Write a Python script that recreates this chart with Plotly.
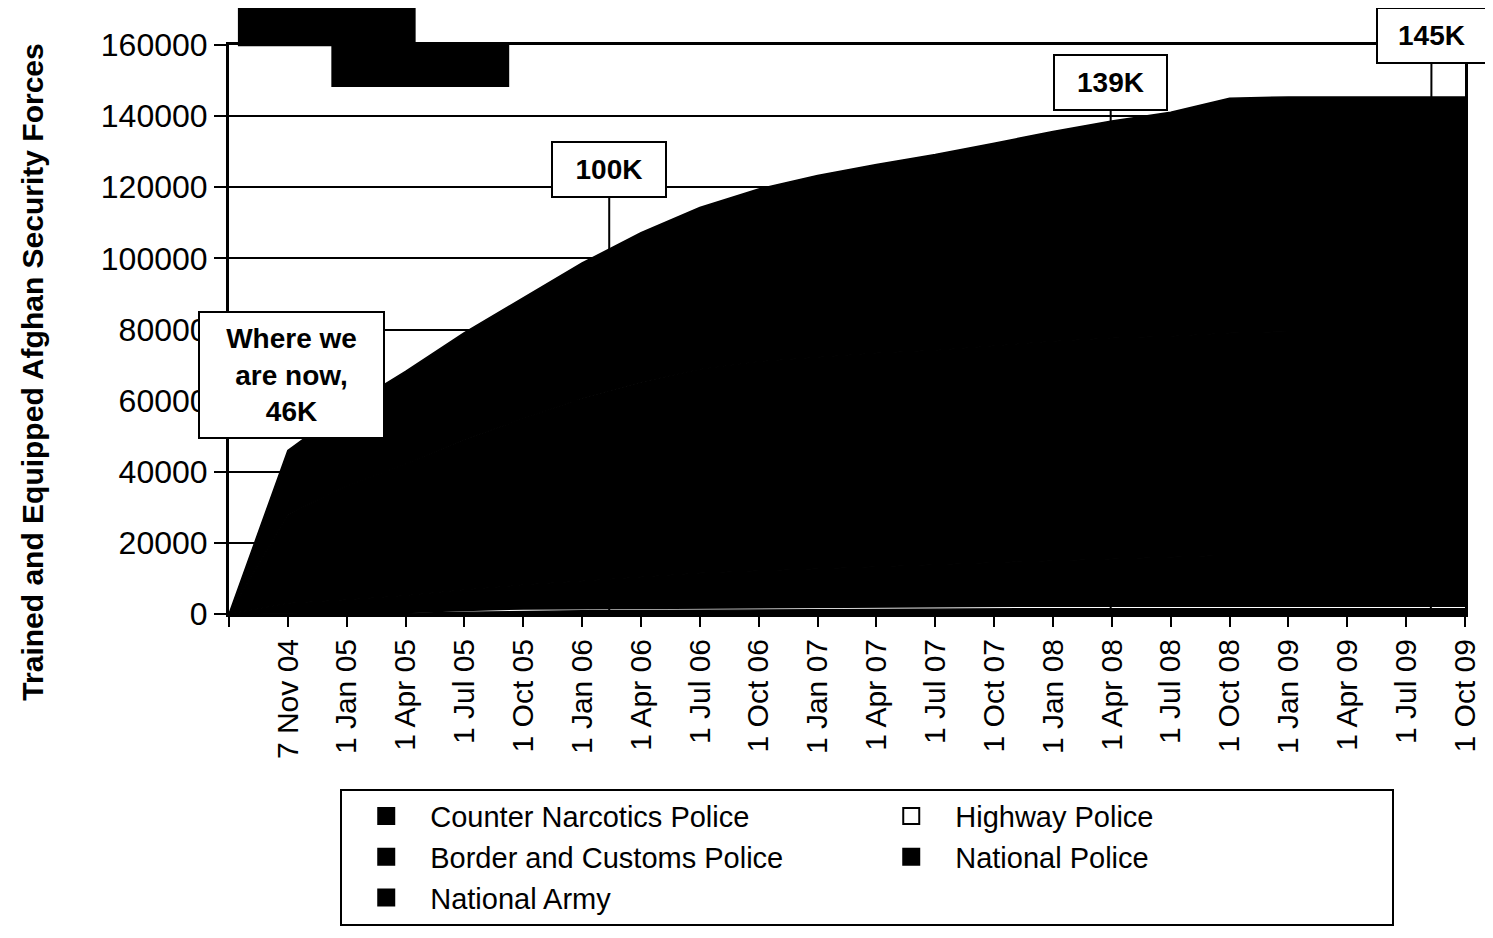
import plotly.graph_objects as go

# ---- data ----
date_labels = ["", "7 Nov 04", "1 Jan 05", "1 Apr 05", "1 Jul 05", "1 Oct 05",
               "1 Jan 06", "1 Apr 06", "1 Jul 06", "1 Oct 06", "1 Jan 07",
               "1 Apr 07", "1 Jul 07", "1 Oct 07", "1 Jan 08", "1 Apr 08",
               "1 Jul 08", "1 Oct 08", "1 Jan 09", "1 Apr 09", "1 Jul 09", "1 Oct 09"]

counter_narcotics = [0, 0, 0, 200, 500, 800, 900, 1000, 1100, 1200, 1300,
                     1400, 1400, 1500, 1500, 1500, 1500, 1500, 1500, 1500, 1500, 1500]
highway_police = [0, 0, 0, 0, 300, 400, 400, 400, 400, 450, 450,
                  500, 500, 500, 500, 500, 500, 500, 500, 500, 500, 500]
border_customs = [0, 3000, 4000, 5000, 6000, 7000, 8000, 9000, 10000, 10500, 11000,
                  11500, 12000, 12500, 13000, 13500, 14000, 14500, 14500, 14500, 14500, 14500]
national_police = [0, 25000, 32000, 37000, 42300, 46700, 51400, 54800, 57300, 58850, 59550,
                   60000, 60300, 60900, 61700, 62100, 62100, 62500, 62900, 62900, 62900, 62900]
national_army = [0, 18000, 22000, 26000, 30000, 34000, 38000, 42000, 45500, 48500, 51000,
                 53000, 55000, 57000, 59000, 61000, 63000, 66000, 66000, 66000, 66000, 66000]

series_names = ["Counter Narcotics Police", "Highway Police", "Border and Customs Police",
                "National Police", "National Army"]
series_values = [counter_narcotics, highway_police, border_customs, national_police, national_army]
series_fill = ["black", "white", "black", "black", "black"]

y_ticks = [0, 20000, 40000, 60000, 80000, 100000, 120000, 140000, 160000]

# callouts: (text, arrow x index, box x index, box y value, box w, box h, arrow?)
callouts = [
    ("Where we<br>are now,<br>46K", 1.055, 1.055, 67300, 183, 124, False),
    ("100K", 6.46, 6.46, 125000, 112, 53, True),
    ("139K", 14.98, 14.98, 149400, 111, 53, True),
    ("145K", 20.42, 20.43, 162550, 107, 53, True),
]

FONT = "Liberation Sans, Arial, sans-serif"
x_idx = list(range(len(date_labels)))

fig = go.Figure()
for name, vals, fc in zip(series_names, series_values, series_fill):
    lw = 0 if fc == "white" else 1.5
    fig.add_trace(go.Scatter(
        x=x_idx, y=vals, name=name, stackgroup="one", mode="lines",
        line=dict(width=lw, color="black"), fillcolor=fc, showlegend=False,
        hoverinfo="skip"))

# legend-only marker entries
for name, fc in zip(series_names, series_fill):
    fig.add_trace(go.Scatter(
        x=[None], y=[None], name=name, mode="markers",
        marker=dict(symbol="square", size=17, color=fc,
                    line=dict(color="black", width=2)),
        showlegend=True))

annotations = []
for text, xa, xb, yb, w, h, arrow in callouts:
    a = dict(text="<b>" + text + "</b>", font=dict(family=FONT, size=28, color="black"),
             bgcolor="white", bordercolor="black", borderwidth=2, borderpad=0,
             width=w, height=h, align="center", valign="middle")
    if arrow:
        a.update(x=xa, y=0, xref="x", yref="y", ax=xb, ay=yb, axref="x", ayref="y",
                 showarrow=True, arrowhead=0, arrowwidth=2, arrowcolor="black",
                 standoff=0, startstandoff=0)
    else:
        a.update(x=xb, y=yb, xref="x", yref="y", showarrow=False,
                 xanchor="center", yanchor="middle")
    annotations.append(a)

annotations.append(dict(
    text="<b>Trained and Equipped Afghan Security Forces</b>", textangle=-90,
    xref="paper", yref="paper", x=-0.159, y=0.425, showarrow=False,
    xanchor="center", yanchor="middle",
    font=dict(family=FONT, size=30, color="black")))

shapes = [
    dict(type="rect", xref="paper", yref="paper", x0=0.0072, x1=0.151, y0=0.998, y1=1.065,
         fillcolor="black", line=dict(width=0), layer="above"),
    dict(type="rect", xref="paper", yref="paper", x0=0.0828, x1=0.2267, y0=0.926, y1=1.0,
         fillcolor="black", line=dict(width=0), layer="above"),
]

fig.update_layout(
    width=1485, height=930,
    margin=dict(l=221, r=13, t=37, b=323),
    paper_bgcolor="white", plot_bgcolor="white",
    font=dict(family=FONT, color="black"),
    annotations=annotations, shapes=shapes,
    legend=dict(orientation="h", x=0.09, y=-0.307, xanchor="left", yanchor="top",
                traceorder="normal",
                bordercolor="black", borderwidth=2, bgcolor="white",
                entrywidth=432, entrywidthmode="pixels",
                font=dict(family=FONT, size=29, color="black"),
                itemwidth=78),
    xaxis=dict(range=[0, 21], tickmode="array", tickvals=x_idx, ticktext=date_labels,
               tickangle=-90, ticks="outside", ticklen=10, tickwidth=2, tickcolor="black",
               showline=True, linecolor="black", linewidth=3, mirror=True,
               showgrid=False, zeroline=False, ticklabeloverflow="allow",
               tickfont=dict(family=FONT, size=30, color="black")),
    yaxis=dict(range=[0, 160000], tickmode="array", tickvals=y_ticks,
               ticktext=[str(v) for v in y_ticks],
               ticks="outside", ticklen=12, tickwidth=2, tickcolor="black",
               showline=True, linecolor="black", linewidth=3, mirror=True,
               showgrid=True, gridcolor="black", gridwidth=2, zeroline=False,
               tickfont=dict(family=FONT, size=32, color="black")),
)

fig.write_html("out.html")
